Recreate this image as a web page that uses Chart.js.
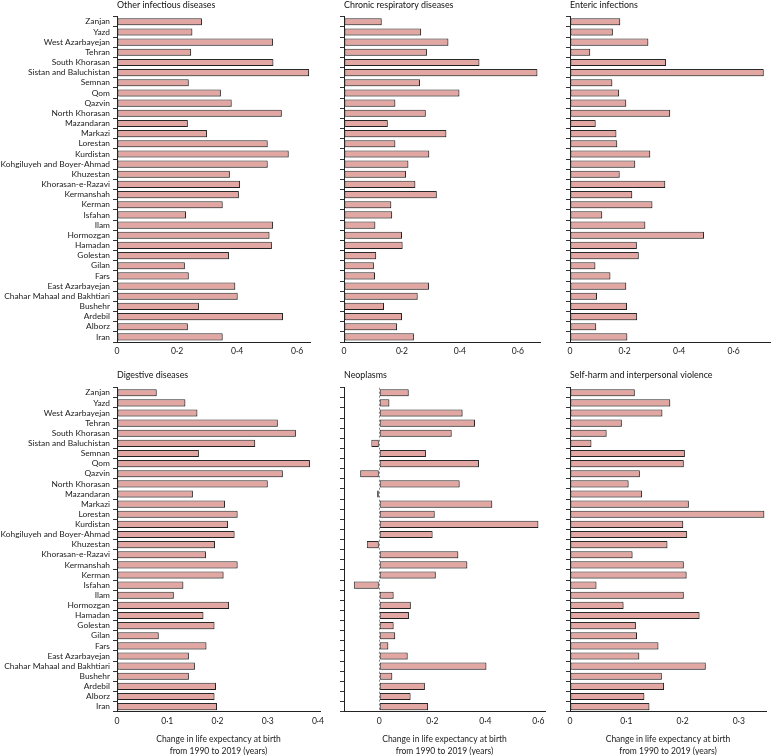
<!DOCTYPE html>
<html lang="en">
<head>
<meta charset="UTF-8">
<title>Change in life expectancy at birth by cause, Iran provinces</title>
<script src="https://cdn.jsdelivr.net/npm/chart.js"></script>
<style>
    body { margin: 0; background: #fff; overflow: hidden; }
    #wrap { position: relative; width: 774px; height: 755px; }
    #wrap canvas { position: absolute; }
</style>
</head>
<body>
<div id="wrap"></div>

<script>
// provinces, top to bottom
const provinces = ["Zanjan", "Yazd", "West Azarbayejan", "Tehran", "South Khorasan", "Sistan and Baluchistan",
    "Semnan", "Qom", "Qazvin", "North Khorasan", "Mazandaran", "Markazi", "Lorestan", "Kurdistan",
    "Kohgiluyeh and Boyer-Ahmad", "Khuzestan", "Khorasan-e-Razavi", "Kermanshah", "Kerman", "Isfahan",
    "Ilam", "Hormozgan", "Hamadan", "Golestan", "Gilan", "Fars", "East Azarbayejan",
    "Chahar Mahaal and Bakhtiari", "Bushehr", "Ardebil", "Alborz", "Iran"];

// change in life expectancy at birth, 1990-2019 (years)
const otherInfectious = [0.283, 0.251, 0.520, 0.247, 0.521, 0.640, 0.239, 0.346, 0.382, 0.549, 0.236, 0.300,
    0.502, 0.572, 0.502, 0.376, 0.410, 0.406, 0.352, 0.230, 0.520, 0.508, 0.516, 0.373, 0.226, 0.239,
    0.394, 0.402, 0.273, 0.553, 0.236, 0.352];
const chronicRespiratory = [0.130, 0.266, 0.360, 0.286, 0.467, 0.667, 0.262, 0.398, 0.177, 0.282, 0.151, 0.353,
    0.177, 0.294, 0.222, 0.214, 0.246, 0.320, 0.163, 0.166, 0.108, 0.200, 0.202, 0.111, 0.103, 0.107,
    0.293, 0.254, 0.138, 0.200, 0.183, 0.241];
const enteric = [0.184, 0.157, 0.287, 0.074, 0.352, 0.710, 0.155, 0.180, 0.206, 0.367, 0.094, 0.170,
    0.173, 0.294, 0.239, 0.182, 0.349, 0.228, 0.302, 0.118, 0.276, 0.491, 0.245, 0.252, 0.093, 0.148,
    0.206, 0.099, 0.209, 0.246, 0.096, 0.210];
const digestive = [0.079, 0.136, 0.160, 0.320, 0.356, 0.275, 0.163, 0.384, 0.330, 0.300, 0.151, 0.215,
    0.240, 0.221, 0.234, 0.195, 0.177, 0.240, 0.212, 0.132, 0.113, 0.223, 0.172, 0.194, 0.083, 0.178,
    0.143, 0.155, 0.143, 0.197, 0.194, 0.199];
const neoplasms = [0.111, 0.038, 0.314, 0.361, 0.273, -0.030, 0.176, 0.376, -0.072, 0.303, -0.008, 0.426,
    0.209, 0.600, 0.201, -0.047, 0.298, 0.332, 0.213, -0.096, 0.054, 0.119, 0.112, 0.054, 0.060, 0.034,
    0.107, 0.404, 0.049, 0.172, 0.118, 0.184];
const selfHarm = [0.115, 0.178, 0.164, 0.092, 0.065, 0.038, 0.204, 0.202, 0.124, 0.104, 0.128, 0.211,
    0.345, 0.201, 0.208, 0.173, 0.111, 0.202, 0.207, 0.047, 0.202, 0.095, 0.230, 0.117, 0.119, 0.157,
    0.123, 0.241, 0.163, 0.167, 0.132, 0.141];

// tick labels
const ticksWide = [0, 0.2, 0.4, 0.6];
const ticksDigestive = [0, 0.1, 0.2, 0.3, 0.4];
const ticksSelfHarm = [0, 0.1, 0.2, 0.3];
const axisTitle = ["Change in life expectancy at birth", "from 1990 to 2019 (years)"];

// panel layout: left = canvas left, axisX = y axis pixel, right = chart area right
const panels = [
    { title: "Other infectious diseases", data: otherInfectious, ticks: ticksWide, min: 0, max: 0.643,
      left: 0, axisX: 117, right: 310, top: 0, height: 370, labels: true },
    { title: "Chronic respiratory diseases", data: chronicRespiratory, ticks: ticksWide, min: 0, max: 0.676,
      left: 330, axisX: 344, right: 540, top: 0, height: 370 },
    { title: "Enteric infections", data: enteric, ticks: ticksWide, min: 0, max: 0.733,
      left: 555, axisX: 570, right: 770, top: 0, height: 370 },
    { title: "Digestive diseases", data: digestive, ticks: ticksDigestive, min: 0, max: 0.404,
      left: 0, axisX: 117, right: 320, top: 370, height: 388, labels: true, xTitle: true },
    { title: "Neoplasms", data: neoplasms, ticks: ticksWide, min: -0.133, max: 0.625,
      left: 330, axisX: 344, right: 545, top: 370, height: 388, xTitle: true, zeroLine: true },
    { title: "Self-harm and interpersonal violence", data: selfHarm, ticks: ticksSelfHarm, min: 0, max: 0.348,
      left: 555, axisX: 570, right: 766, top: 370, height: 388, xTitle: true }
];

Chart.defaults.font.family = "Lato, 'Open Sans', sans-serif";
Chart.defaults.font.size = 8.6;
Chart.defaults.color = "#222";

// light grey offset behind each bar, like the print figure
const barShadow = {
    id: "barShadow",
    beforeDatasetsDraw(chart) {
        const c = chart.ctx;
        c.save();
        c.shadowColor = "rgba(0,0,0,0.22)";
        c.shadowOffsetX = 1;
        c.shadowOffsetY = 1;
        c.shadowBlur = 0.5;
    },
    afterDatasetsDraw(chart) {
        chart.ctx.restore();
    }
};

function fmt(v) {
    return v === 0 ? "0" : v.toFixed(1).replace(".", "\u00b7");
}

const wrap = document.getElementById("wrap");

panels.forEach(p => {
    const padR = Math.min(10, 774 - p.right);
    const canvas = document.createElement("canvas");
    canvas.width = p.right + padR - p.left;
    canvas.height = p.height;
    canvas.style.left = p.left + "px";
    canvas.style.top = p.top + "px";
    wrap.appendChild(canvas);

    const xAxisHeight = p.xTitle ? p.height - 341.7 : p.height - 342;

    new Chart(canvas, {
        type: "bar",
        data: {
            labels: provinces,
            datasets: [{
                data: p.data,
                backgroundColor: "#e2a7a3",
                borderColor: "#2a2a2a",
                borderWidth: 1,
                borderSkipped: false,
                barPercentage: 0.7,
                categoryPercentage: 1
            }]
        },
        options: {
            indexAxis: "y",
            responsive: false,
            animation: false,
            layout: { padding: { left: 0, right: padR, top: 0, bottom: 0 } },
            plugins: {
                legend: { display: false },
                tooltip: { enabled: false },
                title: {
                    display: true,
                    text: p.title,
                    align: "start",
                    fullSize: false,
                    color: "#111",
                    font: { size: 8.9, weight: "normal", lineHeight: 1 },
                    padding: { top: 1, bottom: p.xTitle ? 7.8 : 6.8 }
                }
            },
            scales: {
                y: {
                    grid: { offset: true, drawOnChartArea: false, drawTicks: true, tickLength: 4, tickColor: "#333" },
                    border: { color: "#222", width: 1 },
                    ticks: { display: !!p.labels, autoSkip: false, padding: 3, color: "#222", font: { size: 8.4 } },
                    afterFit: s => { s.width = p.axisX - p.left; }
                },
                x: {
                    min: p.min,
                    max: p.max,
                    bounds: "data",
                    afterBuildTicks: s => { s.ticks = p.ticks.map(v => ({ value: v })); },
                    grid: {
                        drawTicks: false,
                        lineWidth: 1,
                        color: c => (p.zeroLine && c.tick && c.tick.value === 0) ? "#8c8c8c" : "transparent"
                    },
                    border: { color: "#222", width: 1, dash: [2, 2] },
                    ticks: { padding: 4, maxRotation: 0, autoSkip: false, color: "#222", callback: v => fmt(v) },
                    title: {
                        display: !!p.xTitle,
                        text: axisTitle,
                        color: "#222",
                        font: { size: 8.5, lineHeight: 1.5 },
                        padding: 0
                    },
                    afterFit: s => { s.height = xAxisHeight; }
                }
            }
        },
        plugins: [barShadow]
    });
});
</script>
</body>
</html>
